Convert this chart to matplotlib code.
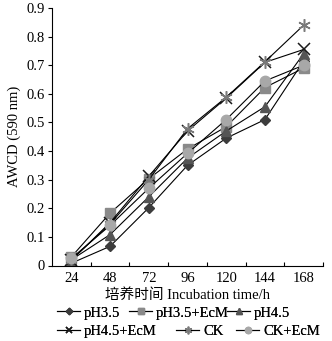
import matplotlib
matplotlib.use("Agg")
import matplotlib.pyplot as plt
import numpy as np

plt.rcParams['font.family'] = ['Liberation Serif', 'Noto Sans CJK SC']

categories = ["24", "48", "72", "96", "120", "144", "168"]
series_names = ["pH3.5", "pH3.5+EcM", "pH4.5", "pH4.5+EcM", "CK", "CK+EcM"]
ph35 = [0.008, 0.067, 0.202, 0.350, 0.445, 0.510, 0.715]
ph35_ecm = [0.030, 0.183, 0.303, 0.407, 0.485, 0.622, 0.690]
ph45 = [0.020, 0.108, 0.240, 0.375, 0.470, 0.555, 0.740]
ph45_ecm = [0.018, 0.150, 0.312, 0.470, 0.585, 0.710, 0.755]
ck = [0.020, 0.145, 0.300, 0.478, 0.588, 0.712, 0.840]
ck_ecm = [0.025, 0.140, 0.270, 0.392, 0.510, 0.645, 0.700]
yticks = [0, 0.1, 0.2, 0.3, 0.4, 0.5, 0.6, 0.7, 0.8, 0.9]
ytick_labels = ["0", "0.1", "0.2", "0.3", "0.4", "0.5", "0.6", "0.7", "0.8", "0.9"]

values = [ph35, ph35_ecm, ph45, ph45_ecm, ck, ck_ecm]
markers = ["D", "s", "^", "x", (6, 2, 0), "o"]
mcolors = ["#3c3c3c", "#8a8a8a", "#555555", "#1a1a1a", "#7a7a7a", "#a8a8a8"]
msizes = [5.5, 7, 7, 8, 9, 7.5]

fig = plt.figure(figsize=(3.32, 3.41), dpi=100)
ax = fig.add_axes([52/332, 1-265.5/341, (323-52)/332, (265.5-8)/341])

x = np.arange(len(categories))
handles = []
for name, v, m, c, s in zip(series_names, values, markers, mcolors, msizes):
    kw = dict(marker=m, markersize=s, color="black", linewidth=0.8, label=name)
    if m in ("x", (6, 2, 0)):
        kw.update(markeredgecolor=c, markeredgewidth=1.1)
    else:
        kw.update(markerfacecolor=c, markeredgecolor=c)
    h, = ax.plot(x, v, **kw)
    handles.append(h)

ax.set_xlim(-0.5, len(categories) - 0.5)
ax.set_ylim(0, 0.9)
ax.set_yticks(yticks)
ax.set_yticklabels(ytick_labels, fontsize=10.5)
ax.set_xticks(np.arange(len(categories)) + 0.5)
ax.set_xticklabels([])
ax.set_xticks(x, minor=True)
ax.set_xticklabels(categories, minor=True, fontsize=10.5)
ax.tick_params(axis='x', which='major', direction='in', length=3, width=0.8)
ax.tick_params(axis='x', which='minor', length=0, pad=5)
ax.tick_params(axis='y', direction='out', length=3, width=0.8, pad=2)
for sp in ("top", "right"):
    ax.spines[sp].set_visible(False)
for sp in ("left", "bottom"):
    ax.spines[sp].set_linewidth(0.8)

ax.set_ylabel("AWCD (590 nm)", fontsize=10.5, labelpad=4)
ax.set_xlabel("培养时间 Incubation time/h", fontsize=10.5, labelpad=2)

# legend entries laid out like the reference (two rows, free-flowing)
leg_pos = [(57, 313), (129, 313), (227, 313), (57, 331), (176, 331), (236, 331)]
for h, name, (lx, ly) in zip(handles, series_names, leg_pos):
    lg = fig.legend([h], [name], loc="center left",
                    bbox_to_anchor=(lx/332, 1-ly/341), frameon=False,
                    fontsize=10.5, handlelength=1.6, handletextpad=0.25,
                    borderaxespad=0, borderpad=0, markerscale=0.6)
    fig.add_artist(lg)

fig.savefig("out.png", dpi=100)
